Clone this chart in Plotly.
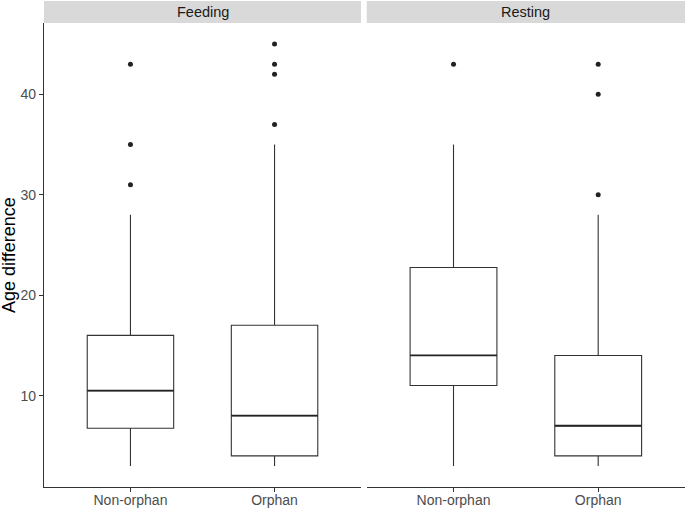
import plotly.graph_objects as go

categories = ["Non-orphan", "Orphan"]
panels = ["Feeding", "Resting"]

# Precomputed box statistics per panel: [Non-orphan, Orphan]
lower_whisker = {"Feeding": [3, 3], "Resting": [3, 3]}
q1 = {"Feeding": [6.75, 4], "Resting": [11, 4]}
median = {"Feeding": [10.5, 8], "Resting": [14, 7]}
q3 = {"Feeding": [16, 17], "Resting": [22.75, 14]}
upper_whisker = {"Feeding": [28, 35], "Resting": [35, 28]}
outliers = {
    "Feeding": [[43, 35, 31], [45, 43, 42, 37]],
    "Resting": [[43], [43, 40, 30]],
}

W, H = 685, 508
ML, MR, MT, MB = 44, 0, 23, 21
pw = W - ML - MR
ph = H - MT - MB

line_col = "#333333"
font_fam = "Liberation Sans, Arial, sans-serif"

fig = go.Figure()
axes = [("x", "y"), ("x2", "y2")]
for p, (xa, ya) in zip(panels, axes):
    fig.add_trace(go.Box(
        x=categories, q1=q1[p], median=median[p], q3=q3[p],
        lowerfence=lower_whisker[p], upperfence=upper_whisker[p],
        xaxis=xa, yaxis=ya, width=0.6, whiskerwidth=0,
        fillcolor="white", line=dict(color=line_col, width=1.1),
        boxpoints=False, showlegend=False, hoverinfo="skip"))
    # thicker median line (zero-height box)
    fig.add_trace(go.Box(
        x=categories, q1=median[p], median=median[p], q3=median[p],
        lowerfence=median[p], upperfence=median[p],
        xaxis=xa, yaxis=ya, width=0.6, whiskerwidth=0,
        fillcolor="rgba(0,0,0,0)", line=dict(color="#222222", width=1.8),
        boxpoints=False, showlegend=False, hoverinfo="skip"))
    ox, oy = [], []
    for c, vals in zip(categories, outliers[p]):
        ox += [c] * len(vals)
        oy += vals
    fig.add_trace(go.Scatter(
        x=ox, y=oy, mode="markers", xaxis=xa, yaxis=ya,
        marker=dict(color="#222222", size=5), showlegend=False,
        hoverinfo="skip"))

left_dom = [0, (361 - ML) / pw]
right_dom = [(366.7 - ML) / pw, 1]
yr = [0.9, 47.1]

common_x = dict(type="category", range=[-0.6, 1.6], showline=True,
                linecolor=line_col, linewidth=1.1, ticks="outside",
                ticklen=4, tickcolor=line_col, tickwidth=1.1,
                ticklabelstandoff=-4,
                showgrid=False, zeroline=False, automargin=False,
                tickfont=dict(family=font_fam, size=14, color="#4d4d4d"))
fig.update_layout(
    width=W, height=H,
    margin=dict(l=ML, r=MR, t=MT, b=MB, autoexpand=False),
    paper_bgcolor="white", plot_bgcolor="white",
    xaxis=dict(domain=left_dom, anchor="y", **common_x),
    xaxis2=dict(domain=right_dom, anchor="y2", **common_x),
    yaxis=dict(domain=[0, 1], range=yr, anchor="x", showline=True,
               linecolor=line_col, linewidth=1.1, ticks="outside",
               ticklen=4, tickcolor=line_col, tickwidth=1.1,
               tickvals=[10, 20, 30, 40], showgrid=False, zeroline=False,
               automargin=False,
               tickfont=dict(family=font_fam, size=14, color="#4d4d4d")),
    yaxis2=dict(domain=[0, 1], range=yr, anchor="x2", showline=False,
                showticklabels=False, ticks="", showgrid=False,
                zeroline=False, automargin=False),
)

strip_h = 22 / ph
for p, dom in zip(panels, [left_dom, right_dom]):
    fig.add_shape(type="rect", xref="paper", yref="paper",
                  x0=dom[0], x1=dom[1], y0=1, y1=1 + strip_h,
                  fillcolor="#d9d9d9", line=dict(width=0), layer="below")
    fig.add_annotation(text=p, xref="paper", yref="paper",
                       x=(dom[0] + dom[1]) / 2, y=1 + strip_h / 2,
                       showarrow=False, xanchor="center", yanchor="middle",
                       font=dict(family=font_fam, size=14.5, color="#1a1a1a"))

fig.add_annotation(text="Age difference", xref="paper", yref="paper",
                   x=(9 - ML) / pw, y=0.5, textangle=-90, showarrow=False,
                   xanchor="center", yanchor="middle",
                   font=dict(family=font_fam, size=18, color="black"))

fig.write_html(
    "out.html",
    config={"displayModeBar": False},
    post_script="document.body.style.margin='0';document.body.style.overflow='hidden';",
)
